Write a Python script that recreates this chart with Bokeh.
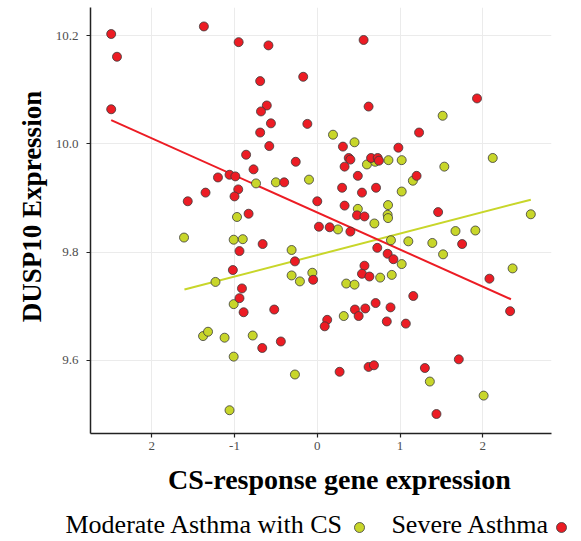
import math

from bokeh.core.properties import value
from bokeh.embed import file_html
from bokeh.layouts import column, row
from bokeh.models import FixedTicker, NumeralTickFormatter, Range1d
from bokeh.plotting import figure
from bokeh.resources import INLINE

# Severe Asthma samples: CS-response score vs DUSP10 expression
severe_x = [-2.49, -2.42, -2.49, -1.37, -0.95, -0.59, 0.56, -0.69, -0.17, -0.61,
            -0.68, 0.62, -0.56, -0.12, -0.69, 1.93, 1.23, -0.58, 0.31, 0.98,
            -0.86, -0.26, 0.38, 0.40, 0.65, 0.73, 0.745, 0.33, -0.77, -1.20,
            -1.06, -0.99, 0.49, 1.20, -0.40, -0.955, -1.35, -1.00, -1.565, 0.30,
            0.54, 0.71, 0.00, 0.33, 0.48, 0.57, -0.83, 1.46, 0.02, 0.15,
            0.40, 1.75, -0.66, -0.94, 0.725, 0.85, 0.92, -0.27, 0.57, -1.02,
            0.54, 0.63, -0.05, 2.08, -0.91, -0.94, 1.16, -0.89, -0.52, 0.455,
            0.58, 0.705, 0.885, 0.50, 0.12, 0.09, 0.84, 1.07, 2.33, -0.665,
            -0.44, 0.27, 0.62, 0.685, 1.30, 1.71, 1.44]
severe_y = [10.203, 10.161, 10.064, 10.217, 10.188, 10.182, 10.192, 10.116, 10.124, 10.071,
            10.060, 10.069, 10.038, 10.037, 10.021, 10.084, 10.021, 9.996, 9.995, 9.993,
            9.980, 9.967, 9.974, 9.971, 9.974, 9.974, 9.969, 9.958, 9.953, 9.938,
            9.943, 9.940, 9.941, 9.941, 9.929, 9.916, 9.910, 9.903, 9.894, 9.919,
            9.910, 9.919, 9.894, 9.886, 9.868, 9.866, 9.871, 9.874, 9.847, 9.846,
            9.838, 9.815, 9.815, 9.802, 9.808, 9.797, 9.787, 9.783, 9.775, 9.767,
            9.760, 9.755, 9.749, 9.751, 9.733, 9.715, 9.719, 9.689, 9.694, 9.694,
            9.696, 9.706, 9.698, 9.682, 9.675, 9.663, 9.672, 9.668, 9.691, 9.623,
            9.635, 9.579, 9.588, 9.591, 9.586, 9.602, 9.501]

# Moderate Asthma with CS samples
moderate_x = [0.19, 0.45, 1.515, 0.60, 0.70, 0.86, 1.02, 2.12, 1.535, 1.155,
              -0.74, -0.50, -0.10, 1.02, 0.49, 0.855, 0.85, 0.855, -0.97, 2.58,
              0.69, 0.25, 1.67, 1.91, -1.61, -1.01, -0.90, 0.89, 1.10, 1.39,
              -0.31, 1.52, 1.02, 2.36, 0.76, 0.90, -0.31, -0.21, -0.06, -1.23,
              0.35, 0.45, -1.01, 0.32, -1.38, -1.32, -1.12, -0.78, -1.01, -0.27,
              1.36, 2.01, -1.06]
moderate_y = [10.017, 10.003, 10.052, 9.962, 9.967, 9.970, 9.970, 9.974, 9.958, 9.932,
              9.927, 9.929, 9.934, 9.912, 9.880, 9.887, 9.869, 9.863, 9.865, 9.870,
              9.853, 9.842, 9.839, 9.840, 9.827, 9.823, 9.824, 9.822, 9.820, 9.817,
              9.804, 9.796, 9.778, 9.770, 9.753, 9.758, 9.757, 9.746, 9.762, 9.745,
              9.742, 9.740, 9.704, 9.682, 9.645, 9.653, 9.642, 9.646, 9.607, 9.574,
              9.561, 9.535, 9.508]

# Linear trend endpoints for each group
severe_fit_x = [-2.49, 2.34]
severe_fit_y = [10.044, 9.713]
moderate_fit_x = [-1.605, 2.58]
moderate_fit_y = [9.731, 9.897]

x_ticks = [-2, -1, 0, 1, 2]
x_tick_labels = ["2", "-1", "0", "1", "2"]
y_ticks = [9.6, 9.8, 10.0, 10.2]
legend_labels = ["Moderate Asthma with CS", "Severe Asthma"]

RED = "#EC1C24"
YELLOW = "#C8D62A"
EDGE = "#3A3A3A"
AXIS = "#222222"
SERIF = "Liberation Serif"

TITLE_W = 48      # strip holding the vertical axis title
MAIN_H = 460      # scatter panel height
STRIP_H = 81      # strip holding the horizontal title and the legend
TOTAL_W = 581


def plain_strip(w, h):
    """A blank figure whose data units are its own pixels."""
    f = figure(width=w, height=h, x_range=Range1d(0, w), y_range=Range1d(0, h),
               output_backend="svg", toolbar_location=None,
               x_axis_type=None, y_axis_type=None, min_border=0)
    f.outline_line_color = None
    f.background_fill_color = "white"
    f.border_fill_color = "white"
    f.frame_align = False
    return f


# --- scatter panel -------------------------------------------------------
p = figure(width=TOTAL_W - TITLE_W, height=MAIN_H,
           x_range=Range1d(-2.74, 2.83), y_range=Range1d(9.465, 10.252),
           output_backend="svg", toolbar_location=None,
           min_border_left=90 - TITLE_W, min_border_right=30,
           min_border_top=7, min_border_bottom=27)
p.frame_align = False
p.background_fill_color = "white"
p.border_fill_color = "white"
p.outline_line_color = None

p.xaxis.ticker = FixedTicker(ticks=x_ticks)
p.xaxis.major_label_overrides = {t: s for t, s in zip(x_ticks, x_tick_labels)}
p.yaxis.ticker = FixedTicker(ticks=y_ticks)
p.yaxis.formatter = NumeralTickFormatter(format="0.0")
p.xgrid.ticker = FixedTicker(ticks=x_ticks)
p.ygrid.ticker = FixedTicker(ticks=y_ticks)
p.grid.grid_line_color = "#EBEBEB"
p.grid.grid_line_width = 1

for ax in (p.xaxis[0], p.yaxis[0]):
    ax.axis_line_color = AXIS
    ax.axis_line_width = 1.5
    ax.major_tick_line_color = AXIS
    ax.major_tick_line_width = 1.2
    ax.major_tick_out = 4
    ax.major_tick_in = 0
    ax.minor_tick_line_color = None
    ax.major_label_text_font = SERIF
    ax.major_label_text_font_size = "13px"
    ax.major_label_text_color = "#4D4D4D"
p.xaxis.major_label_standoff = 4
p.yaxis.major_label_standoff = 8

# trend lines under the points
p.line(moderate_fit_x, moderate_fit_y, line_color=YELLOW, line_width=2)
p.line(severe_fit_x, severe_fit_y, line_color=RED, line_width=2)

p.scatter(moderate_x, moderate_y, size=9, fill_color=YELLOW,
          line_color=EDGE, line_width=0.8)
p.scatter(severe_x, severe_y, size=9, fill_color=RED,
          line_color=EDGE, line_width=0.8)

# --- vertical axis title -------------------------------------------------
ytitle = plain_strip(TITLE_W, MAIN_H)
ytitle.text(x=[31], y=[MAIN_H - 206], text=["DUSP10 Expression"], angle=math.pi / 2,
            text_font=value(SERIF), text_font_style="bold", text_font_size="27px",
            text_align="center", text_baseline="alphabetic", text_color="black")

# --- horizontal axis title and legend -------------------------------------
strip = plain_strip(TOTAL_W, STRIP_H)
strip.text(x=[339], y=[62], text=["CS-response gene expression"],
           text_font=value(SERIF), text_font_style="bold", text_font_size="28px",
           text_align="center", text_baseline="alphabetic", text_color="black")
strip.text(x=[343, 549], y=[17, 17], text=legend_labels,
           text_font=value(SERIF), text_font_size="26px",
           text_align="right", text_baseline="alphabetic", text_color="black")
strip.scatter(x=[359, 561], y=[14, 14], size=10,
              fill_color=[YELLOW, RED], line_color=EDGE, line_width=0.8)

layout = column(row(ytitle, p, spacing=0), strip, spacing=0)

with open("out.html", "w") as f:
    f.write(file_html(layout, INLINE))
